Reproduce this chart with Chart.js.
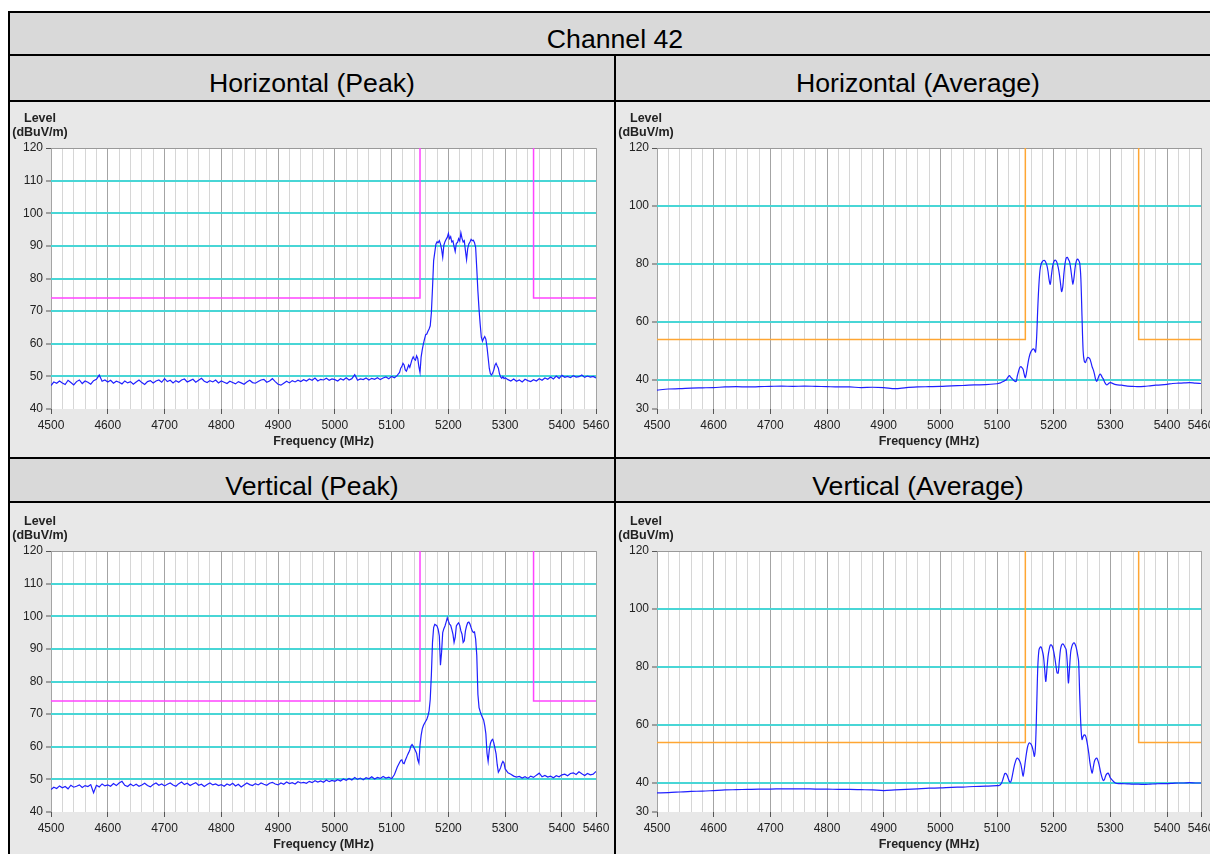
<!DOCTYPE html>
<html>
<head>
<meta charset="utf-8">
<script src="https://cdn.jsdelivr.net/npm/chart.js@4.4.1/dist/chart.umd.min.js"></script>
<style>
html, body { margin: 0; padding: 0; overflow: hidden; background: #fff; width: 1210px; height: 854px; }
body { position: relative; font-family: 'Liberation Sans', Arial, sans-serif; }
.hdr { position: absolute; background: #d9d9d9; }
.cell { position: absolute; background: #e8e8e8; }
.ln { position: absolute; background: #000; }
.t { position: absolute; font-size: 26.67px; line-height: 30px; text-align: center; color: #000; white-space: nowrap; }
canvas { position: absolute; }
</style>
</head>
<body>
<div class="hdr" style="left:8px;top:11px;width:1230px;height:91px"></div>
<div class="hdr" style="left:8px;top:457px;width:1230px;height:46px"></div>
<div class="cell" style="left:8px;top:102px;width:1230px;height:355px"></div>
<div class="cell" style="left:8px;top:503px;width:1230px;height:351px"></div>

<canvas id="hPeak" width="604" height="355" style="left:10px;top:102px"></canvas>
<canvas id="hAvg" width="610" height="355" style="left:616px;top:102px"></canvas>
<canvas id="vPeak" width="604" height="357" style="left:10px;top:503px"></canvas>
<canvas id="vAvg" width="610" height="357" style="left:616px;top:503px"></canvas>

<div class="ln" style="left:8px;top:11px;width:1230px;height:2px"></div>
<div class="ln" style="left:8px;top:54px;width:1230px;height:2px"></div>
<div class="ln" style="left:8px;top:100px;width:1230px;height:2px"></div>
<div class="ln" style="left:8px;top:457px;width:1230px;height:2px"></div>
<div class="ln" style="left:8px;top:501px;width:1230px;height:2px"></div>
<div class="ln" style="left:8px;top:11px;width:2px;height:843px"></div>
<div class="ln" style="left:614px;top:54px;width:2px;height:800px"></div>

<div class="t" style="left:8px;width:1214px;top:24px">Channel 42</div>
<div class="t" style="left:10px;width:604px;top:68px">Horizontal (Peak)</div>
<div class="t" style="left:616px;width:604px;top:68px">Horizontal (Average)</div>
<div class="t" style="left:10px;width:604px;top:471px">Vertical (Peak)</div>
<div class="t" style="left:616px;width:604px;top:471px">Vertical (Average)</div>

<script>
// Axes
const X_LABELS = [4500, 4600, 4700, 4800, 4900, 5000, 5100, 5200, 5300, 5400, 5460];
const PEAK_Y_TICKS = [40, 50, 60, 70, 80, 90, 100, 110, 120];
const AVG_Y_TICKS = [30, 40, 60, 80, 100, 120];
const UNIT_LABEL = ['Level', '(dBuV/m)'];
const X_TITLE = 'Frequency (MHz)';

// Limit lines (null = break between the two sides)
const LIMIT_FREQ = [4500, 5150, 5150, 5250, 5350, 5350, 5460];
const PEAK_LIMIT = [74, 74, 120, null, 120, 74, 74];
const AVG_LIMIT = [54, 54, 120, null, 120, 54, 54];

// Peak traces
const PEAK_FREQ = [
  4500,4505,4510,4515,4520,4525,4530,4535,4540,4545,4550,4555,4560,4565,4570,4575,4580,4585,4590,4595,
  4600,4605,4610,4615,4620,4625,4630,4635,4640,4645,4650,4655,4660,4665,4670,4675,4680,4685,4690,4695,
  4700,4705,4710,4715,4720,4725,4730,4735,4740,4745,4750,4755,4760,4765,4770,4775,4780,4785,4790,4795,
  4800,4805,4810,4815,4820,4825,4830,4835,4840,4845,4850,4855,4860,4865,4870,4875,4880,4885,4890,4895,
  4900,4905,4910,4915,4920,4925,4930,4935,4940,4945,4950,4955,4960,4965,4970,4975,4980,4985,4990,4995,
  5000,5005,5010,5015,5020,5025,5030,5035,5040,5045,5050,5055,5060,5065,5070,5075,5080,5085,5090,5095,
  5100,5105,5110,
  5112,5114,5116,5118,5120,5122,5124,5126,5128,5130,
  5132,5134,5136,5138,5140,5142,5144,5146,5148,5150,
  5152,5154,5156,5158,5160,5162,5164,5166,5168,5170,
  5172,5174,5176,5178,5180,5182,5184,5186,5188,5190,
  5192,5194,5196,5198,5200,5202,5204,5206,5208,5210,
  5212,5214,5216,5218,5220,5222,5224,5226,5228,5230,
  5232,5234,5236,5238,5240,5242,5244,5246,5248,5250,
  5252,5254,5256,5258,5260,5262,5264,5266,5268,5270,
  5272,5274,5276,5278,5280,5282,5284,5286,5288,5290,
  5292,5294,5296,5298,5300,
  5305,5310,5315,5320,5325,5330,5335,5340,5345,5350,5355,5360,5365,5370,5375,5380,
  5385,5390,5395,5400,5405,5410,5415,5420,5425,5430,5435,5440,5445,5450,5455,5460
];

const H_PEAK = [
  47.2,48.3,47.9,48.6,48.0,47.5,48.8,48.1,47.4,48.4,48.9,47.8,48.6,48.2,47.6,48.7,49.1,50.4,48.5,48.9,
  48.3,48.8,47.9,48.5,48.2,47.7,48.6,48.0,48.4,47.6,48.3,48.9,48.1,47.5,48.4,48.7,48.0,48.6,48.9,48.2,
  49.3,48.4,48.8,48.0,48.7,48.2,48.9,49.2,48.3,48.7,49.1,48.2,48.8,49.4,48.5,48.1,48.7,48.3,48.9,48.0,
  48.6,48.2,47.8,48.5,48.1,47.7,48.4,48.0,47.6,48.3,48.8,48.1,47.9,48.4,48.9,49.1,48.2,48.6,49.3,48.4,
  47.6,47.3,47.9,48.5,48.0,48.7,48.3,48.8,48.4,49.0,48.6,49.2,48.8,49.5,48.6,49.1,48.9,49.4,48.8,49.2,
  49.0,48.6,49.3,48.9,49.6,48.9,49.3,50.5,48.8,49.2,49.0,49.5,48.9,49.4,49.1,49.6,49.0,49.5,49.8,49.3,
  50.0,49.6,50.3,
  50.8,51.2,52.5,53.0,54.0,53.5,52.0,51.6,52.5,53.5,
  52.8,54.0,55.2,56.0,55.3,55.0,56.3,55.5,53.0,51.2,
  56.0,58.2,60.0,61.5,62.8,63.0,63.8,64.5,65.5,69.5,
  77.0,85.5,88.0,90.5,91.2,91.0,91.6,90.6,89.0,86.5,
  90.2,91.3,92.0,92.6,93.8,92.2,92.8,91.2,91.5,89.8,
  88.3,90.8,91.0,92.2,91.5,94.0,92.3,91.2,91.6,88.5,
  85.8,89.2,90.6,91.2,92.0,91.6,91.7,91.0,89.5,83.0,
  76.0,70.5,66.0,62.0,60.8,61.6,62.2,61.4,59.0,55.8,
  52.5,50.8,50.4,51.0,52.0,53.4,54.0,53.2,52.5,50.8,
  49.8,49.4,49.9,49.3,49.6,
  49.0,48.6,49.2,48.5,48.9,48.3,49.1,48.7,48.4,49.0,48.6,49.3,48.8,49.5,49.1,49.8,
  49.2,50.1,49.4,50.3,49.7,50.0,49.6,50.2,49.8,49.9,50.4,49.7,50.1,49.8,50.0,49.5
];

const V_PEAK = [
  46.9,47.6,47.2,48.0,47.4,47.8,47.1,48.2,47.6,47.9,48.3,47.5,48.1,47.8,48.4,45.9,48.2,47.7,48.6,48.0,
  48.3,47.9,48.7,48.1,48.9,49.4,48.2,47.8,48.6,48.0,48.5,47.9,48.3,48.8,48.1,47.7,48.4,48.9,48.2,48.6,
  48.0,48.5,48.9,48.3,47.9,48.7,49.2,48.4,48.8,48.1,48.6,49.0,48.2,48.5,47.8,48.4,48.9,48.3,48.6,48.1,
  48.4,47.9,48.6,48.2,48.8,48.0,48.5,47.7,48.3,48.9,48.4,48.1,48.7,48.3,48.9,48.5,48.2,48.8,49.1,48.6,
  48.3,48.9,48.5,49.2,48.7,49.0,48.6,49.3,48.9,49.1,48.8,49.4,49.0,49.6,49.2,49.5,49.1,49.8,49.3,49.7,
  49.4,49.9,49.5,50.1,49.7,50.3,49.8,50.6,50.0,50.4,49.9,50.5,50.2,50.8,50.1,50.6,50.3,50.9,50.4,50.7,
  50.2,51.5,53.8,
  54.5,55.2,55.8,56.0,55.0,54.8,55.8,56.6,57.5,58.2,
  59.0,60.2,60.7,60.2,59.5,58.8,58.0,56.0,55.0,60.5,
  63.5,65.5,66.5,67.2,67.8,68.4,69.5,71.0,74.5,82.0,
  92.0,96.5,97.5,97.3,97.0,96.0,94.0,85.0,89.0,95.0,
  96.2,97.0,98.2,99.5,98.5,97.6,97.2,96.0,94.5,92.0,
  93.5,97.0,97.6,98.0,97.2,95.5,94.5,92.0,92.5,95.5,
  97.0,98.0,98.2,97.6,96.5,95.5,95.0,95.2,93.0,88.0,
  76.0,72.0,70.8,69.8,69.0,68.2,66.5,64.0,58.0,55.5,
  59.0,61.0,62.0,62.3,61.2,59.5,57.8,54.5,52.2,52.8,
  53.6,54.8,55.5,55.0,53.2,
  52.0,51.6,51.0,50.7,50.9,50.4,50.8,50.3,51.0,50.6,51.3,51.9,50.8,51.2,50.7,51.0,
  50.5,51.1,50.8,51.4,51.6,51.1,51.8,52.0,51.5,52.3,51.7,51.2,51.8,51.4,51.6,52.4
];

// Average traces
const AVG_FREQ = [
  4500,4520,4540,4560,4580,4600,4620,4640,4660,4680,4700,4720,4740,4760,4780,4800,
  4820,4840,4860,4880,4900,4920,4940,4960,4980,5000,5020,5040,5060,5080,5100,
  5102,5104,5106,5108,5110,5112,5114,5116,5118,5120,
  5122,5124,5126,5128,5130,5132,5134,5136,5138,5140,
  5142,5144,5146,5148,5150,5152,5154,5156,5158,5160,
  5162,5164,5166,5168,5170,5172,5174,5176,5178,5180,
  5182,5184,5186,5188,5190,5192,5194,5196,5198,5200,
  5202,5204,5206,5208,5210,5212,5214,5216,5218,5220,
  5222,5224,5226,5228,5230,5232,5234,5236,5238,5240,
  5242,5244,5246,5248,5250,5252,5254,5256,5258,5260,
  5262,5264,5266,5268,5270,5272,5274,5276,5278,5280,
  5282,5284,5286,5288,5290,5292,5294,5296,5298,5300,
  5310,5320,5330,5340,5350,5360,5370,5380,5390,5400,5410,5420,5430,5440,5450,5460
];

const H_AVG = [
  36.5,36.9,37.0,37.2,37.3,37.4,37.6,37.7,37.6,37.7,37.8,37.9,37.8,37.9,37.8,37.7,
  37.6,37.6,37.4,37.5,37.4,37.0,37.4,37.6,37.7,37.8,38.0,38.1,38.3,38.4,38.7,
  38.8,38.9,39.0,39.2,39.4,39.6,39.8,40.0,40.6,41.2,
  41.5,41.0,40.6,40.2,39.8,39.5,39.6,41.5,43.0,44.2,
  44.6,44.3,43.7,42.0,40.8,42.5,45.0,47.2,48.8,49.8,
  50.4,50.7,50.4,49.6,55.0,65.0,73.0,78.0,80.0,80.8,
  81.2,81.2,80.6,79.5,77.5,74.5,73.0,76.0,79.0,80.6,
  81.3,81.2,80.4,78.8,76.5,73.5,70.5,72.0,76.5,80.0,
  82.0,82.3,81.6,80.8,78.5,75.5,73.0,75.5,79.0,81.0,
  81.7,81.3,80.3,75.0,62.0,50.0,46.5,46.0,47.0,47.8,
  47.7,47.2,46.0,44.5,43.5,42.0,40.2,39.5,40.4,41.5,
  42.0,41.6,40.8,40.2,39.2,38.6,38.3,38.6,39.0,39.1,
  38.4,38.2,37.9,37.8,37.7,37.8,38.0,38.2,38.3,38.5,38.8,38.9,39.0,39.1,38.9,38.8
];

const V_AVG = [
  36.6,36.7,36.9,37.1,37.2,37.4,37.6,37.7,37.8,37.9,37.9,38.0,38.0,38.0,37.9,37.9,
  37.8,37.8,37.7,37.6,37.4,37.6,37.8,38.0,38.2,38.3,38.5,38.6,38.8,38.9,39.1,
  39.1,39.2,39.4,40.0,41.0,42.3,43.3,43.2,42.6,41.5,
  40.5,40.3,41.5,43.5,45.5,47.0,48.2,48.6,48.2,47.6,
  46.5,44.5,42.3,44.5,47.5,50.3,52.5,53.6,53.8,53.4,
  52.5,51.0,49.2,53.0,66.0,80.0,85.8,86.8,86.9,85.6,
  83.7,79.5,75.0,79.0,83.5,86.0,87.5,87.6,86.9,85.4,
  83.2,80.5,78.0,77.9,82.0,86.0,87.6,88.0,87.6,86.8,
  86.0,81.5,74.5,79.5,85.0,87.0,88.0,88.3,87.8,86.6,
  84.5,82.0,70.0,60.0,55.0,56.0,56.6,56.4,55.0,52.8,
  50.2,47.0,44.8,43.4,45.5,47.5,48.3,48.6,47.8,46.4,
  44.5,42.8,41.5,40.8,41.4,42.6,43.2,43.4,42.8,41.8,
  39.9,39.8,39.7,39.6,39.6,39.5,39.6,39.7,39.8,39.8,39.9,40.0,40.0,40.1,40.0,40.0
];

const FONT = "'Liberation Sans', Arial, sans-serif";
const CYAN = 'rgb(72, 214, 214)';
const TRACE = '#2020ff';

// minor grid every 20 MHz
function xGridTicks() {
    const t = [];
    for (let f = 4500; f <= 5460; f += 20) t.push({ value: f });
    return t;
}

const panelDecor = {
    id: 'panelDecor',
    beforeDraw(chart) {
        const { ctx, chartArea: a } = chart;
        ctx.save();
        ctx.fillStyle = '#fff';
        ctx.fillRect(a.left, a.top, a.right - a.left, a.bottom - a.top);
        ctx.restore();
    },
    afterDraw(chart) {
        const { ctx, chartArea: a } = chart;
        ctx.save();
        ctx.fillStyle = '#222';
        ctx.font = 'bold 12.5px ' + FONT;
        ctx.textAlign = 'center';
        ctx.textBaseline = 'middle';
        ctx.fillText(UNIT_LABEL[0], a.left - 11, a.top - 29);
        ctx.fillText(UNIT_LABEL[1], a.left - 11, a.top - 15);
        ctx.restore();
    }
};

function drawPanel(id, freq, level, limit, limitColor, yTicks, padTop, padRight, smooth) {
    const yMin = yTicks[0];
    const yMax = yTicks[yTicks.length - 1];
    const n = Math.min(freq.length, level.length);
    const trace = [];
    for (let i = 0; i < n; i++) trace.push({ x: freq[i], y: level[i] });

    new Chart(document.getElementById(id), {
        type: 'line',
        data: {
            datasets: [{
                data: trace,
                borderColor: TRACE,
                borderWidth: 1.2,
                pointRadius: 0,
                tension: smooth ? 0.3 : 0
            }, {
                data: LIMIT_FREQ.map((f, i) => ({ x: f, y: limit[i] })),
                borderColor: limitColor,
                borderWidth: 1.5,
                pointRadius: 0,
                spanGaps: false
            }]
        },
        options: {
            responsive: false,
            animation: false,
            devicePixelRatio: 1,
            layout: { padding: { top: padTop, right: padRight, left: 0, bottom: 0 } },
            plugins: {
                legend: { display: false },
                tooltip: { enabled: false }
            },
            scales: {
                x: {
                    type: 'linear',
                    min: 4500,
                    max: 5460,
                    afterBuildTicks: s => { s.ticks = xGridTicks(); },
                    afterFit: s => { s.height = 48; },
                    border: { display: false },
                    grid: {
                        color: c => (c.tick.value % 100 === 0 || c.tick.value === 5460) ? '#a4a4a4' : '#d6d6d6',
                        lineWidth: 1,
                        tickLength: 5,
                        tickWidth: 1,
                        tickColor: c => X_LABELS.includes(c.tick.value) ? '#555' : 'rgba(0,0,0,0)'
                    },
                    ticks: {
                        autoSkip: false,
                        maxRotation: 0,
                        padding: 4,
                        color: '#222',
                        font: { family: FONT, size: 12 },
                        callback: v => X_LABELS.includes(v) ? String(v) : ''
                    },
                    title: {
                        display: true,
                        text: X_TITLE,
                        color: '#222',
                        font: { family: FONT, size: 12.5, weight: 'bold' },
                        padding: { top: 0, bottom: 8 }
                    }
                },
                y: {
                    type: 'linear',
                    min: yMin,
                    max: yMax,
                    afterBuildTicks: s => { s.ticks = yTicks.map(v => ({ value: v })); },
                    afterFit: s => { s.width = 41; },
                    border: { display: false },
                    grid: {
                        color: c => c.tick.value === yMax ? '#999' : (c.tick.value === yMin ? 'rgba(0,0,0,0)' : CYAN),
                        lineWidth: c => c.tick.value === yMax ? 1 : 2,
                        tickLength: 5,
                        tickWidth: 1,
                        tickColor: '#555'
                    },
                    ticks: {
                        padding: 3,
                        color: '#222',
                        font: { family: FONT, size: 12 }
                    }
                }
            }
        },
        plugins: [panelDecor]
    });
}

drawPanel('hPeak', PEAK_FREQ, H_PEAK, PEAK_LIMIT, '#ff44ff', PEAK_Y_TICKS, 46, 18, false);
drawPanel('hAvg', AVG_FREQ, H_AVG, AVG_LIMIT, '#ffa633', AVG_Y_TICKS, 46, 25, true);
drawPanel('vPeak', PEAK_FREQ, V_PEAK, PEAK_LIMIT, '#ff44ff', PEAK_Y_TICKS, 48, 18, false);
drawPanel('vAvg', AVG_FREQ, V_AVG, AVG_LIMIT, '#ffa633', AVG_Y_TICKS, 48, 25, true);
</script>
</body>
</html>
